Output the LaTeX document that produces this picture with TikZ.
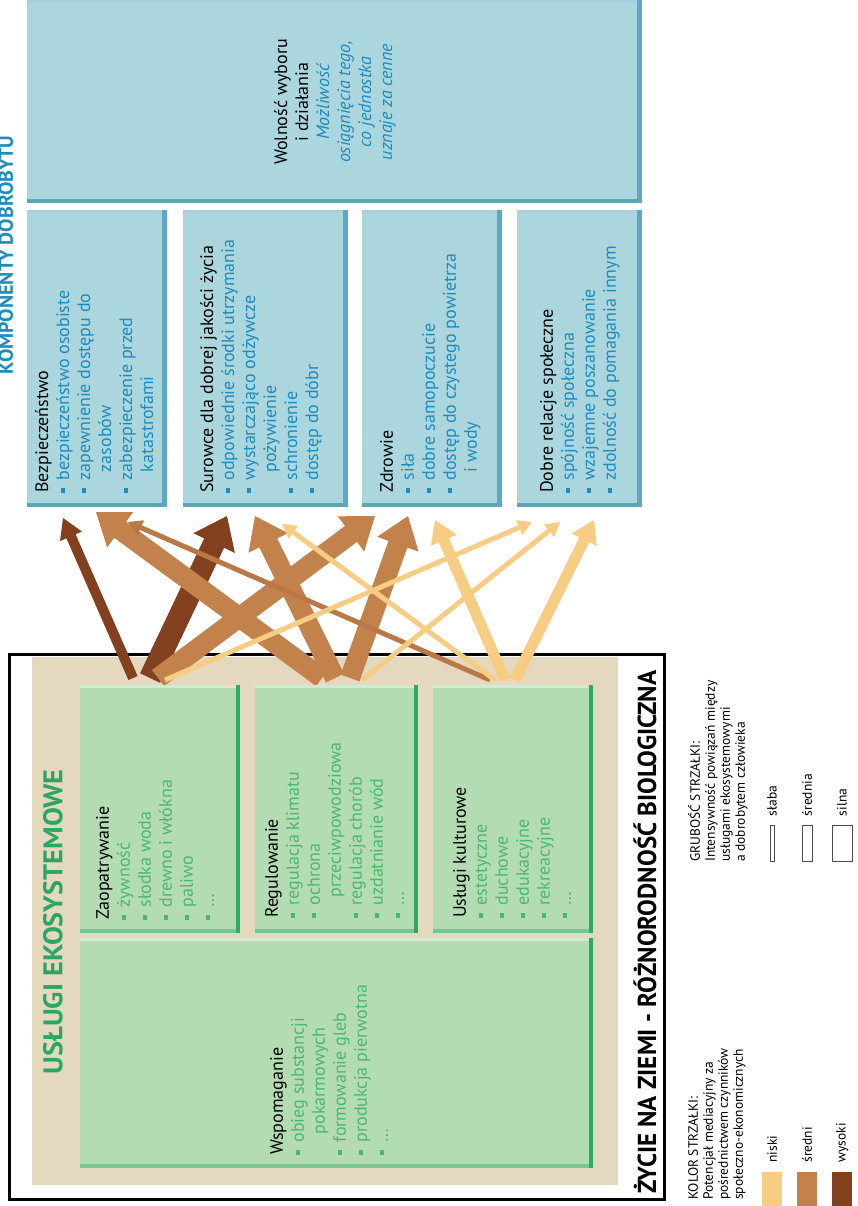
\documentclass[tikz,border=0pt]{standalone}
\usepackage{fontspec}
\setmainfont{PT Sans}
\usetikzlibrary{calc}
\definecolor{beige}{HTML}{E4D8BF}
\definecolor{gfill}{HTML}{B4DCB3}
\definecolor{gedge}{HTML}{2EAA68}
\definecolor{gtext}{HTML}{4CB86E}
\definecolor{gtitle}{HTML}{2AA764}
\definecolor{bfill}{HTML}{ABD6DD}
\definecolor{bedge}{HTML}{5DA9C5}
\definecolor{btext}{HTML}{1E8CBE}
\definecolor{lowc}{HTML}{F6CD82}
\definecolor{midc}{HTML}{C3824C}
\definecolor{highc}{HTML}{82401F}

% square bullet and hanging indent for list lines
\newcommand\bu{\rule[.22em]{.24em}{.24em}\hspace{.45em}}
\newcommand\ind{\hspace*{1.15em}}

% filled arrow: start, end, half shaft width, half head width, head length, colour
\newcommand\linkarrow[6]{%
  \coordinate (lkB) at ($(#2)!#5!(#1)$);
  \fill[#6] ($(#1)!#3!90:(#2)$) -- ($(lkB)!#3!90:(#2)$) -- ($(lkB)!#4!90:(#2)$)
    -- (#2) -- ($(lkB)!#4!-90:(#2)$) -- ($(lkB)!#3!-90:(#2)$) -- ($(#1)!#3!-90:(#2)$) -- cycle;
}

\begin{document}
\begin{tikzpicture}[x=1pt,y=-1pt,
  wbox/.style={fill=bfill, inner sep=0pt, anchor=north west},
  ebox/.style={fill=gfill, inner sep=0pt, anchor=north west},
  vt/.style={rotate=90, inner sep=0pt, align=left, anchor=north west,
    font=\fontsize{18}{21}\selectfont},
  legtext/.style={rotate=90, inner sep=0pt, align=left, anchor=north west,
    font=\fontsize{13.5}{15}\selectfont},
  swatch/.style={inner sep=0pt, minimum width=20pt, minimum height=34pt, anchor=south west},
  bar/.style={draw=black!70, line width=.6pt, fill=white, inner sep=0pt, minimum height=36pt, anchor=south},
]
\useasboundingbox (0,0) rectangle (858,1206);
\fill[white] (0,0) rectangle (858,1206);
\clip (0,0) rectangle (858,1206);

% ---------- well-being components ----------
\node[text=btext, font=\bfseries\fontsize{20}{20}\selectfont, rotate=90, anchor=north] (komp) at (-5,255) {KOMPONENTY DOBROBYTU};

\node[wbox, minimum width=615pt, minimum height=203pt] (wol) at (27,0) {};
\node[wbox, minimum width=140pt, minimum height=297pt] (bez) at (27,210) {};
\node[wbox, minimum width=165pt, minimum height=297pt] (sur) at (183,210) {};
\node[wbox, minimum width=140pt, minimum height=297pt] (zdr) at (362,210) {};
\node[wbox, minimum width=125pt, minimum height=297pt] (dob) at (517,210) {};
\foreach \b in {wol,bez,sur,zdr,dob}{
  \draw[bedge!55, line width=3pt] ([yshift=-1.5pt]\b.north west) -- ([yshift=-1.5pt]\b.north east);
  \draw[bedge!80!gray, line width=4pt] ([yshift=2pt]\b.south west) -- ([yshift=2pt]\b.south east);
  \draw[bedge, line width=5pt] ([xshift=-2.5pt]\b.north east) -- ([xshift=-2.5pt]\b.south east);
}

\node[rotate=90, inner sep=0pt, align=center, font=\fontsize{18}{21}\selectfont] (wolT) at (335,102)
  {Wolność wyboru\\ i działania\\ \textcolor{btext}{\itshape Możliwość}\\
   \textcolor{btext}{\itshape osiągnięcia tego,}\\ \textcolor{btext}{\itshape co jednostka}\\
   \textcolor{btext}{\itshape uznaje za cenne}};

\node[vt, text=btext] (bezT) at (35,493)
  {\textcolor{black}{Bezpieczeństwo}\\ \bu bezpieczeństwo osobiste\\ \bu zapewnienie dostępu do\\
   \ind zasobów\\ \bu zabezpieczenie przed\\ \ind katastrofami};
\node[vt, text=btext] (surT) at (200,493)
  {\textcolor{black}{Surowce dla dobrej jakości życia}\\ \bu odpowiednie środki utrzymania\\
   \bu wystarczająco odżywcze\\ \ind pożywienie\\ \bu schronienie\\ \bu dostęp do dóbr};
\node[vt, text=btext] (zdrT) at (380,493)
  {\textcolor{black}{Zdrowie}\\ \bu siła\\ \bu dobre samopoczucie\\ \bu dostęp do czystego powietrza\\ \ind i wody};
\node[vt, text=btext] (dobT) at (540,493)
  {\textcolor{black}{Dobre relacje społeczne}\\ \bu spójność społeczna\\ \bu wzajemne poszanowanie\\
   \bu zdolność do pomagania innym};

% ---------- ecosystem services frame ----------
\node[draw=black, line width=2.5pt, inner sep=0pt, anchor=north west, minimum width=655pt, minimum height=545pt] (life) at (8,653) {};
\node[fill=beige, inner sep=0pt, anchor=north west, minimum width=586pt, minimum height=528pt] (serv) at (32,657) {};

\node[text=gtitle, font=\bfseries\fontsize{27}{27}\selectfont, rotate=90] (servT) at (53,922)
  {\resizebox{305pt}{\height}{USŁUGI EKOSYSTEMOWE}};
\node[font=\bfseries\fontsize{26}{26}\selectfont, rotate=90] (lifeT) at (645,932)
  {\resizebox{523pt}{\height}{ŻYCIE NA ZIEMI - RÓŻNORODNOŚĆ BIOLOGICZNA}};

% ---------- arrow end points ----------
\coordinate (sZ1) at (133,678); \coordinate (sZ2) at (150,678);
\coordinate (sZ3) at (158,678); \coordinate (sZ4) at (165,680);
\coordinate (sR1) at (322,678); \coordinate (sR2) at (335,678);
\coordinate (sR3) at (350,678); \coordinate (sR4) at (362,680);
\coordinate (sK1) at (490,680); \coordinate (sK2) at (495,680);
\coordinate (sK3) at (505,680); \coordinate (sK4) at (515,680);
\coordinate (tB1) at (63,518);  \coordinate (tB2) at (96,512);  \coordinate (tB3) at (128,522);
\coordinate (tS1) at (227,516); \coordinate (tS2) at (255,516); \coordinate (tS3) at (282,524);
\coordinate (tH1) at (375,516); \coordinate (tH2) at (408,516); \coordinate (tH3) at (435,520);
\coordinate (tD1) at (532,522); \coordinate (tD2) at (560,522); \coordinate (tD3) at (594,520);

% strong links
\linkarrow{sZ2}{tS1}{11pt}{23pt}{30pt}{highc}
\linkarrow{sR1}{tB2}{10pt}{22pt}{30pt}{midc}
\linkarrow{sR2}{tS2}{10pt}{22pt}{30pt}{midc}
\linkarrow{sZ3}{tH1}{10pt}{22pt}{30pt}{midc}
\linkarrow{sR3}{tH2}{10pt}{22pt}{30pt}{midc}
% medium links
\linkarrow{sZ1}{tB1}{5pt}{12pt}{20pt}{highc}
\linkarrow{sK3}{tH3}{5.5pt}{14pt}{22pt}{lowc}
\linkarrow{sK4}{tD3}{5.5pt}{14pt}{22pt}{lowc}
% weak links
\linkarrow{sK1}{tB3}{2.5pt}{8pt}{14pt}{midc!85!highc}
\linkarrow{sK2}{tS3}{2.5pt}{8pt}{14pt}{lowc}
\linkarrow{sZ4}{tD1}{2.5pt}{8pt}{14pt}{lowc}
\linkarrow{sR4}{tD2}{2.5pt}{8pt}{14pt}{lowc}

% ---------- service boxes ----------
\node[ebox, minimum width=160pt, minimum height=248pt] (zao) at (80,685) {};
\node[ebox, minimum width=163pt, minimum height=248pt] (reg) at (255,685) {};
\node[ebox, minimum width=160pt, minimum height=248pt] (kul) at (433,685) {};
\node[ebox, minimum width=513pt, minimum height=230pt] (wsp) at (80,938) {};
\foreach \b in {zao,reg,kul,wsp}{
  \draw[gfill!60!white, line width=3pt] ([yshift=-1.5pt]\b.north west) -- ([yshift=-1.5pt]\b.north east);
  \draw[gedge!45!gfill, line width=4pt] ([yshift=2pt]\b.south west) -- ([yshift=2pt]\b.south east);
  \draw[gedge, line width=4pt] ([xshift=-2pt]\b.north east) -- ([xshift=-2pt]\b.south east);
}

\node[vt, text=gtext] (zaoT) at (96,920)
  {\textcolor{black}{Zaopatrywanie}\\ \bu żywność\\ \bu słodka woda\\ \bu drewno i włókna\\ \bu paliwo\\ \bu \dots};
\node[vt, text=gtext] (regT) at (265,918)
  {\textcolor{black}{Regulowanie}\\ \bu regulacja klimatu\\ \bu ochrona\\ \ind przeciwpowodziowa\\
   \bu regulacja chorób\\ \bu uzdatnianie wód\\ \bu \dots};
\node[vt, text=gtext] (kulT) at (453,918)
  {\textcolor{black}{Usługi kulturowe}\\ \bu estetyczne\\ \bu duchowe\\ \bu edukacyjne\\ \bu rekreacyjne\\ \bu \dots};
\node[vt, text=gtext] (wspT) at (270,1155)
  {\textcolor{black}{Wspomaganie}\\ \bu obieg substancji\\ \ind pokarmowych\\ \bu formowanie gleb\\
   \bu produkcja pierwotna\\ \bu \dots};

% ---------- legend: arrow colour ----------
\node[legtext] (colL) at (688,1200)
  {KOLOR STRZAŁKI:\\ Potencjał mediacyjny za\\ pośrednictwem czynników\\ społeczno-ekonomicznych};
\node[swatch, fill=lowc] (lowS) at (762,1206) {};
\node[swatch, fill=midc] (midS) at (797,1206) {};
\node[swatch, fill=highc] (highS) at (832,1206) {};
\node[legtext, anchor=west] (lowL) at ([yshift=9pt]lowS.north) {niski};
\node[legtext, anchor=west] (midL) at ([yshift=9pt]midS.north) {średni};
\node[legtext, anchor=west] (highL) at ([yshift=9pt]highS.north) {wysoki};

% ---------- legend: arrow width ----------
\node[legtext] (widL) at (688,862)
  {GRUBOŚĆ STRZAŁKI:\\ Intensywność powiązań między\\ usługami ekosystemowymi\\ a dobrobytem człowieka};
\node[bar, minimum width=4pt] (weakS) at (772,862) {};
\node[bar, minimum width=10pt] (medS) at (807,862) {};
\node[bar, minimum width=20pt] (strS) at (842,862) {};
\node[legtext, anchor=west] (weakL) at ([yshift=9pt]weakS.north) {słaba};
\node[legtext, anchor=west] (medL) at ([yshift=9pt]medS.north) {średnia};
\node[legtext, anchor=west] (strL) at ([yshift=9pt]strS.north) {silna};
\end{tikzpicture}
\end{document}
